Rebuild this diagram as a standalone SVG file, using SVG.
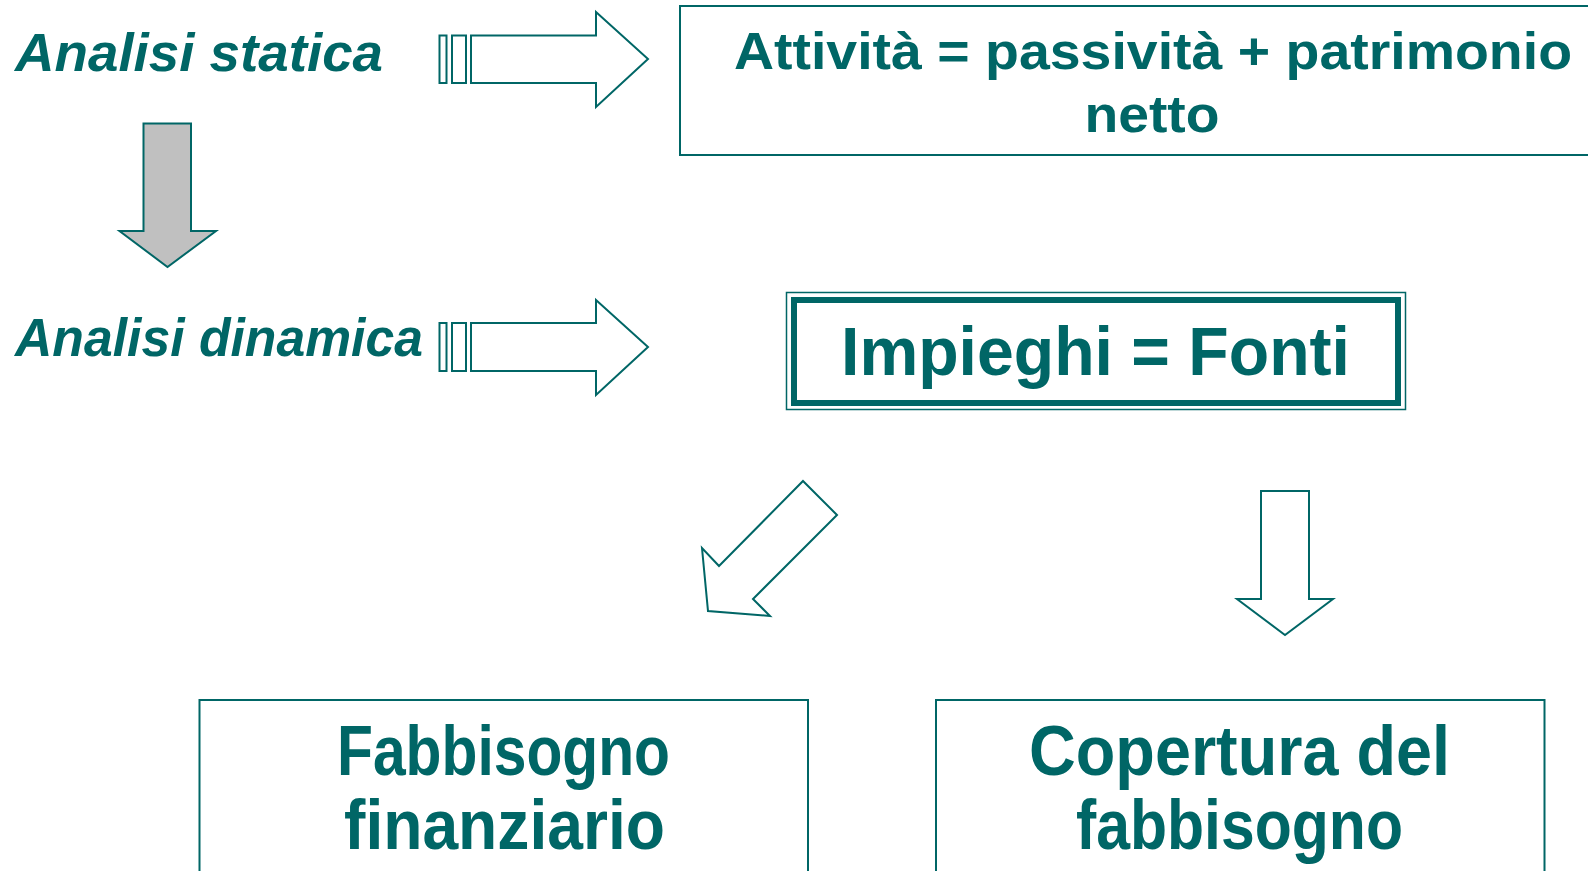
<svg xmlns="http://www.w3.org/2000/svg" width="1588" height="871" viewBox="0 0 1588 871">
<style>
.t{font-family:"Liberation Sans",Arial,sans-serif;font-weight:bold;fill:#006666}
.it{font-style:italic}
.box{fill:#ffffff;stroke:#006666;stroke-width:2}
.arr{fill:#ffffff;stroke:#006666;stroke-width:2;stroke-linejoin:miter}
</style>
<rect width="1588" height="871" fill="#ffffff"/>
<g id="analisi-statica"><text class="t it" x="15" y="71" font-size="54" textLength="368" lengthAdjust="spacingAndGlyphs">Analisi statica</text></g>
<g id="analisi-dinamica"><text class="t it" x="15" y="356" font-size="54" textLength="408" lengthAdjust="spacingAndGlyphs">Analisi dinamica</text></g>
<g id="attivita"><rect class="box" x="680" y="6" width="1000" height="149"/>
<text class="t" x="1153" y="69" font-size="52" text-anchor="middle" textLength="838" lengthAdjust="spacingAndGlyphs">Attività = passività + patrimonio</text>
<text class="t" x="1152" y="132" font-size="52" text-anchor="middle" textLength="135" lengthAdjust="spacingAndGlyphs">netto</text></g>
<g id="impieghi"><rect x="786.5" y="292.5" width="619" height="117" fill="#ffffff" stroke="#006666" stroke-width="1.5"/>
<rect x="794" y="300" width="604" height="103" fill="none" stroke="#006666" stroke-width="6"/>
<text class="t" x="1095.5" y="375" font-size="68" text-anchor="middle" textLength="509" lengthAdjust="spacingAndGlyphs">Impieghi = Fonti</text></g>
<g id="fabbisogno"><rect class="box" x="199.5" y="700" width="608.5" height="200"/>
<text class="t" x="503.5" y="775" font-size="70" text-anchor="middle" textLength="333" lengthAdjust="spacingAndGlyphs">Fabbisogno</text>
<text class="t" x="504.5" y="849" font-size="70" text-anchor="middle" textLength="321" lengthAdjust="spacingAndGlyphs">finanziario</text></g>
<g id="copertura"><rect class="box" x="936" y="700" width="608.5" height="200"/>
<text class="t" x="1239.5" y="775" font-size="70" text-anchor="middle" textLength="421" lengthAdjust="spacingAndGlyphs">Copertura del</text>
<text class="t" x="1239.5" y="849" font-size="70" text-anchor="middle" textLength="327" lengthAdjust="spacingAndGlyphs">fabbisogno</text></g>
<g id="connectors">
<rect class="arr" x="439.5" y="35.5" width="7" height="47.5"/>
<rect class="arr" x="452" y="35.5" width="14" height="47.5"/>
<path class="arr" d="M471 35.5 H596 V12 L648 59 L596 107 V83 H471 Z"/>
<rect class="arr" x="439.5" y="323" width="7" height="48"/>
<rect class="arr" x="452" y="323" width="14" height="48"/>
<path class="arr" d="M471 323 H596 V300 L648 347 L596 395 V371 H471 Z"/>
<path d="M143.5 123.5 H191 V231 H216 L167.5 267 L119.5 231 H143.5 Z" fill="#c0c0c0" stroke="#006666" stroke-width="2"/>
<path class="arr" d="M803 481 L837 515 L753 599 L770 616 L708 611 L702 548 L719 566 Z"/>
<path class="arr" d="M1261 491 H1309 V599 H1333 L1285 635 L1237 599 H1261 Z"/>
</g>
</svg>
